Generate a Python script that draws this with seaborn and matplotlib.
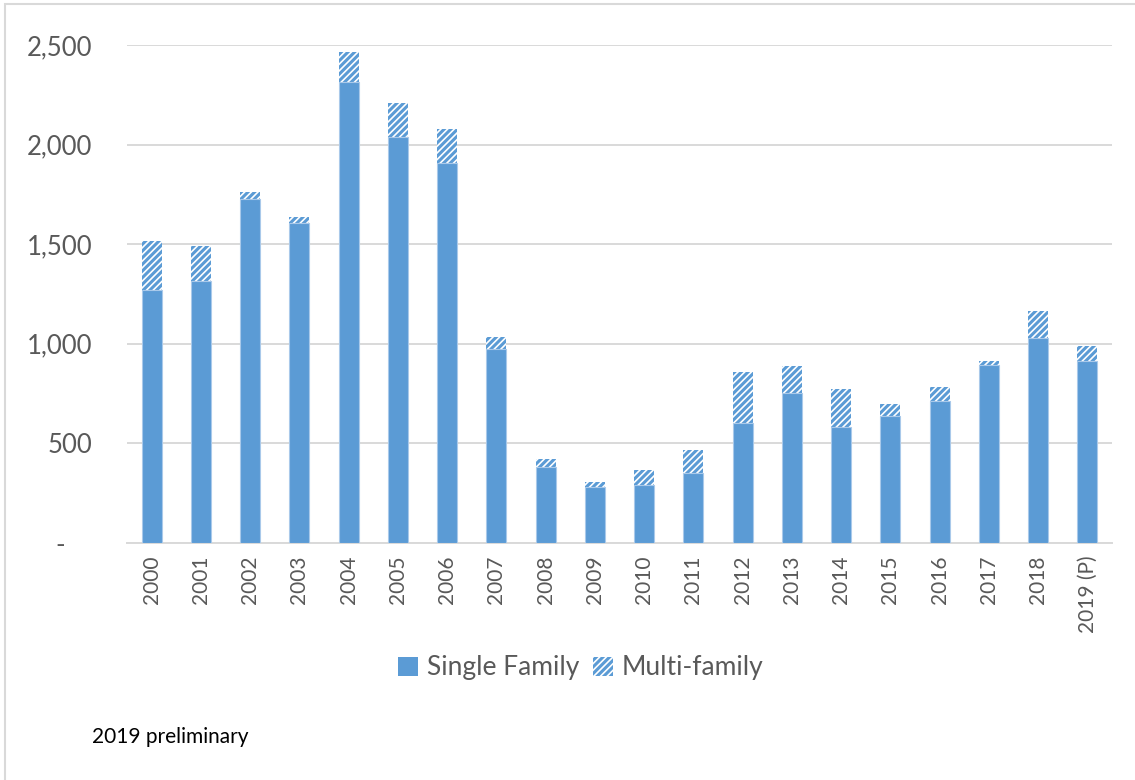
import matplotlib
matplotlib.use("Agg")
import matplotlib.pyplot as plt
from matplotlib.patches import Patch, Rectangle
from matplotlib.ticker import FuncFormatter
import seaborn as sns
import pandas as pd

# Housing units by year (single family and multi-family)
years = ["2000", "2001", "2002", "2003", "2004", "2005", "2006", "2007", "2008", "2009",
         "2010", "2011", "2012", "2013", "2014", "2015", "2016", "2017", "2018", "2019 (P)"]
single_family = [1270, 1317, 1727, 1608, 2312, 2038, 1909, 975, 381, 280,
                 290, 350, 604, 751, 584, 638, 714, 894, 1027, 914]
multi_family = [246, 174, 37, 27, 151, 169, 168, 57, 42, 25,
                78, 115, 253, 138, 187, 60, 71, 21, 138, 77]
y_ticks = [0, 500, 1000, 1500, 2000, 2500]
legend_labels = ["Single Family", "Multi-family"]
footnote = "2019 preliminary"

BLUE = "#5B9BD5"
GRID = "#D9D9D9"
TEXT = "#595959"
HATCH = "/////"

sns.set_style("white")
plt.rcParams["font.family"] = ["Lato", "DejaVu Sans"]
plt.rcParams["hatch.linewidth"] = 2.2
plt.rcParams["hatch.color"] = BLUE

df = pd.DataFrame({
    "year": years,
    "single": single_family,
    "total": [s + m for s, m in zip(single_family, multi_family)],
})

fig = plt.figure(figsize=(11.35, 7.8), dpi=100)
ax = fig.add_axes([127 / 1135, 1 - 543 / 780, (1112 - 127) / 1135, (543 - 45) / 780])

# Full stack height drawn hatched; the single-family part is painted over it
sns.barplot(data=df, x="year", y="total", color="white", width=0.41,
            linewidth=0, ax=ax, zorder=2)
for p in ax.patches:
    p.set_hatch(HATCH)
    p.set_edgecolor(BLUE)
    p.set_facecolor("white")
    p.set_linewidth(0)

sns.barplot(data=df, x="year", y="single", color=BLUE, width=0.41,
            linewidth=0.8, edgecolor="#A9C9EA", saturation=1, ax=ax, zorder=3)

ax.set_ylim(0, 2500)
ax.set_xlim(-0.5, len(years) - 0.5)
ax.set_yticks(y_ticks)
ax.yaxis.set_major_formatter(FuncFormatter(lambda v, _: "-    " if v == 0 else f"{int(v):,}"))
ax.set_xlabel("")
ax.set_ylabel("")

ax.grid(axis="y", color=GRID, linewidth=1.4, zorder=0)
ax.set_axisbelow(True)
for side in ["left", "right", "top"]:
    ax.spines[side].set_visible(False)
ax.spines["bottom"].set_color(GRID)
ax.spines["bottom"].set_linewidth(1.4)

ax.tick_params(axis="y", length=0, pad=25, labelsize=18.5, labelcolor=TEXT)
ax.tick_params(axis="x", length=0, pad=9, labelsize=15, labelcolor=TEXT)
for lbl in ax.get_xticklabels():
    lbl.set_rotation(90)
    lbl.set_ha("center")
    lbl.set_va("top")

handles = [Patch(facecolor=BLUE, edgecolor=BLUE, linewidth=0),
           Patch(facecolor="white", edgecolor=BLUE, hatch=HATCH, linewidth=0)]
leg = fig.legend(handles, legend_labels, loc="center",
                 bbox_to_anchor=(581 / 1135, 1 - 668 / 780), ncol=2, frameon=False,
                 fontsize=19, handlelength=0.75, handleheight=0.75,
                 handletextpad=0.35, columnspacing=0.5)
for t in leg.get_texts():
    t.set_color(TEXT)

fig.text(92 / 1135, 1 - 743 / 780, footnote, fontsize=15, color="black",
         ha="left", va="baseline")

# Chart-area frame
fig.add_artist(Rectangle((4.5 / 1135, -0.1), 1.2, 1.1 - 4.5 / 780,
                         transform=fig.transFigure, fill=False,
                         edgecolor=GRID, linewidth=1.5, clip_on=False))

fig.savefig("out.png", dpi=100)
